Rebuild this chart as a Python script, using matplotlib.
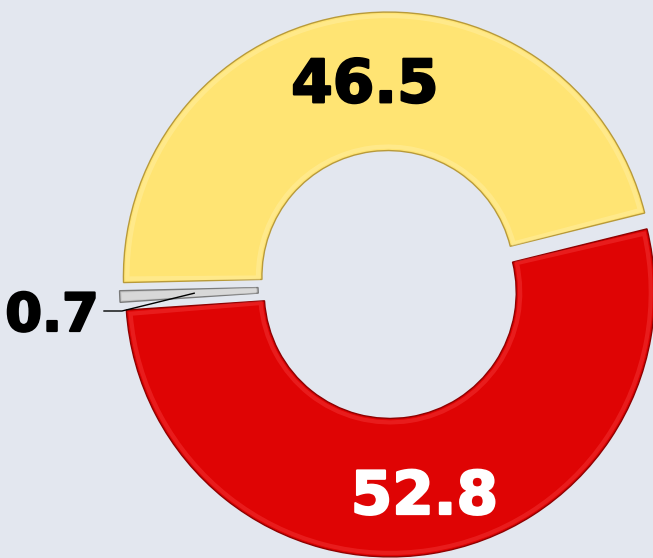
import matplotlib.pyplot as plt
import matplotlib.patheffects as pe
from matplotlib.patches import Wedge
import numpy as np

values = [46.5, 52.8, 0.7]
labels = ["46.5", "52.8", "0.7"]
colors = ["#FFE473", "#DF0404", "#C8C8C8"]
edge_colors = ["#B89A3A", "#8E0000", "#7A7A7A"]
light_colors = ["#FFF0A8", "#F43A3A", "#EDEDED"]
text_colors = ["black", "white", "black"]

W, H = 653, 558
cx, cy = 389, H - 284.5
R, r_in = 264.5, 126
start = 181.3
explode = [8, 8, 5]


def heavy(color):
    # thicker strokes like the heavy labels in the original
    return [pe.Stroke(linewidth=1.6, foreground=color), pe.Normal()]


def main():
    fig = plt.figure(figsize=(W / 100, H / 100), dpi=100)
    fig.patch.set_facecolor("#E3E7EF")
    ax = fig.add_axes([0, 0, 1, 1])
    ax.set_facecolor("#E3E7EF")

    wedges, _ = ax.pie(values, colors=colors, startangle=start, counterclock=False,
                       radius=R, center=(cx, cy), explode=explode,
                       wedgeprops=dict(width=R - r_in, linewidth=1.0))
    for w, ec, lc in zip(wedges, edge_colors, light_colors):
        w.set_edgecolor(ec)
        # soft bevel: a light outline just inside the edge
        inset = 4
        r = w.r - inset
        dth = np.rad2deg(inset / r)
        t1, t2 = w.theta1 + dth, w.theta2 - dth
        if t2 - t1 < 0.3:
            t1, t2 = w.theta1 + 0.1, w.theta2 - 0.1
        ax.add_patch(Wedge(w.center, r, t1, t2, width=w.width - 2 * inset,
                           fill=False, edgecolor=lc, lw=3, alpha=0.45))

    ax.set_xlim(0, W)
    ax.set_ylim(0, H)
    ax.set_aspect("auto")
    ax.axis("off")

    # labels at the middle of the two big slices
    for i in range(2):
        w = wedges[i]
        tm = np.deg2rad((w.theta1 + w.theta2) / 2)
        x0, y0 = w.center
        rl = 200
        ax.text(x0 + rl * np.cos(tm) + 3.5, y0 + rl * np.sin(tm) - 7.5, labels[i],
                ha="center", va="center", fontsize=43, fontweight="bold",
                family="DejaVu Sans", color=text_colors[i],
                path_effects=heavy(text_colors[i]))

    # small slice: outside label with leader line
    w = wedges[2]
    tm = np.deg2rad((w.theta1 + w.theta2) / 2)
    x0, y0 = w.center
    px, py = x0 + 190 * np.cos(tm), y0 + 190 * np.sin(tm)
    ax.plot([104, 122, px], [H - 311, H - 311, py], color="black", lw=1)
    ax.text(52, H - 316, labels[2], ha="center", va="center", fontsize=38,
            fontweight="bold", family="DejaVu Sans", color=text_colors[2],
            path_effects=heavy(text_colors[2]))

    fig.savefig("out.png", dpi=100, facecolor=fig.get_facecolor())


if __name__ == "__main__":
    main()
